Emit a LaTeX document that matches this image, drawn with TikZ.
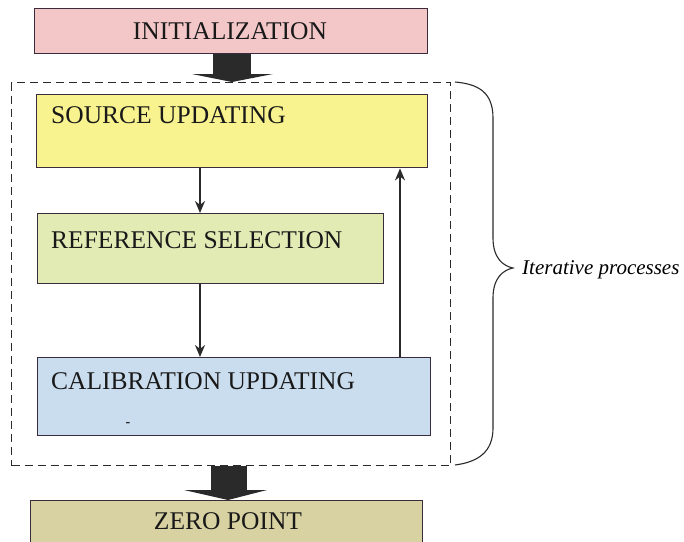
\documentclass[tikz,border=0pt]{standalone}
\usepackage{fontspec}
\setmainfont{Liberation Serif}
\usetikzlibrary{arrows.meta,calc}
\definecolor{pinkf}{HTML}{F3C7C8}
\definecolor{yellowf}{HTML}{F8F38E}
\definecolor{greenf}{HTML}{E3EBB5}
\definecolor{bluef}{HTML}{CADDEF}
\definecolor{khakif}{HTML}{D8D2A2}
\definecolor{edgec}{HTML}{3A2C3A}
\definecolor{blk}{HTML}{2A2A2A}
\tikzset{
  box/.style={draw=edgec, line width=1.4pt, inner sep=0pt, anchor=north west},
  lbl/.style={font=\fontsize{25.5}{29}\selectfont, inner sep=0pt, text=black!90},
  thin/.style={draw=blk, line width=2pt, -{Stealth[length=12pt,width=10pt]}},
  bigarrow/.style={fill=blk, draw=none},
}
\begin{document}
\begin{tikzpicture}[x=1pt,y=-1pt]
\useasboundingbox (0,0) rectangle (684,541);
% boxes
\node[box, fill=pinkf, minimum width=393pt, minimum height=45pt] (init) at (34,8) {};
\node[lbl] (initT) at (230,31) {INITIALIZATION};
\node[box, fill=yellowf, minimum width=391pt, minimum height=73pt] (src) at (36,94) {};
\node[lbl, anchor=west] (srcT) at (51,115) {SOURCE UPDATING};
\node[box, fill=greenf, minimum width=346pt, minimum height=70pt] (ref) at (37,213) {};
\node[lbl, anchor=west] (refT) at (51,240) {REFERENCE SELECTION};
\node[box, fill=bluef, minimum width=393pt, minimum height=78pt] (cal) at (37,357) {};
\node[lbl, anchor=west] (calT) at (51,381) {CALIBRATION UPDATING};
\node[inner sep=0pt, font=\fontsize{14}{16}\selectfont] (dash) at (128,425) {-};
\node[box, fill=khakif, minimum width=392pt, minimum height=50pt] (zero) at (30,500) {};
\node[lbl] (zeroT) at (228,521) {ZERO POINT};
% dashed frame
\node[draw=blk, dash pattern=on 8pt off 5pt, line width=1.3pt, inner sep=0pt, anchor=north west,
      minimum width=439pt, minimum height=383pt] (frame) at (11,82) {};
% thin arrows
\draw[thin] (src.south -| 200,0) -- (ref.north -| 200,0);
\draw[thin] (ref.south -| 200,0) -- (cal.north -| 200,0);
\draw[thin] (cal.north -| 400,0) -- (src.south -| 400,0);
% block arrows
\fill[bigarrow] (init.south -| 213,0) rectangle (251,74);
\fill[bigarrow] (192,74) -- (273,74) -- (232,82) -- cycle;
\fill[bigarrow] (frame.south -| 211,0) rectangle (247,490);
\fill[bigarrow] (184,490) -- (267,490) -- (228,500) -- cycle;
% brace
\coordinate (bt) at (455,82);
\coordinate (bb) at (455,465);
\coordinate (tip) at (513,268);
\draw[draw=blk, line width=1.1pt]
  (bt) .. controls (478,84) and (493,92) .. (493,118)
  -- (493,238) .. controls (493,258) and (503,266) .. (tip)
  .. controls (503,270) and (493,278) .. (493,298)
  -- (493,428) .. controls (493,452) and (478,462) .. (bb);
\node[inner sep=0pt, anchor=west, font=\fontsize{21}{24}\selectfont\itshape] (iter) at (522,270) {Iterative processes};
\end{tikzpicture}
\end{document}
